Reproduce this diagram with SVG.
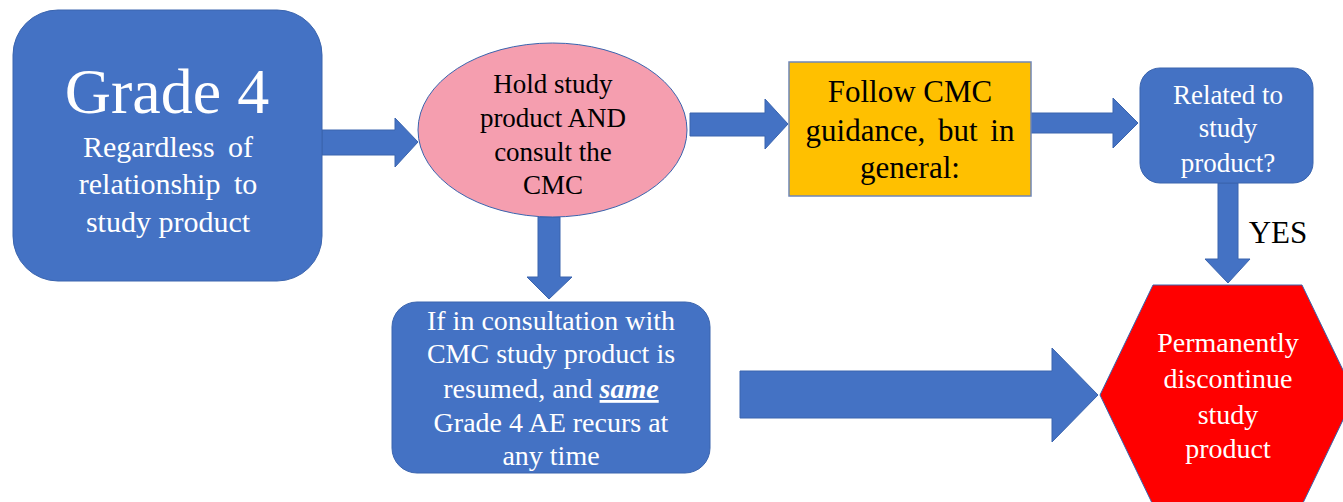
<svg xmlns="http://www.w3.org/2000/svg" width="1343" height="502" viewBox="0 0 1343 502">
<style>
.blue{fill:#4472C4;stroke:#3A64AE;stroke-width:1}
.arrow{fill:#4472C4;stroke:#3A64AE;stroke-width:1}
text{font-family:"Liberation Serif","Times New Roman",serif;text-anchor:middle}
.w{fill:#FFFFFF}
.k{fill:#000000}
</style>
<rect width="1343" height="502" fill="#FFFFFF"/>
<g id="connectors">
<polygon class="arrow" points="322,130 395,130 395,118 418,142 395,167 395,155 322,155"/>
<polygon class="arrow" points="690,113 765,113 765,99 788,124 765,149 765,136 690,136"/>
<polygon class="arrow" points="1031,113 1113,113 1113,98 1138,123 1113,148 1113,133 1031,133"/>
<polygon class="arrow" points="538,217 560,217 560,277 572,277 549,299 527,277 538,277"/>
<polygon class="arrow" points="1218,183 1238,183 1238,259 1250,259 1228,283 1205,259 1218,259"/>
<polygon class="arrow" points="740,371 1052,371 1052,348 1098,395 1052,442 1052,418 740,418"/>
</g>
<g id="grade4">
<rect class="blue" x="13" y="10" width="309" height="271" rx="45" ry="45"/>
<text class="w" x="167" y="113" font-size="64">Grade 4</text>
<text class="w" x="168" y="157" font-size="30" word-spacing="6">Regardless of</text>
<text class="w" x="168" y="194" font-size="30" word-spacing="6">relationship to</text>
<text class="w" x="168" y="232" font-size="30">study product</text>
</g>
<g id="hold">
<ellipse cx="552.5" cy="130" rx="134.5" ry="87" fill="#F59EAF" stroke="#3A64AE" stroke-width="1"/>
<text class="k" x="553" y="93" font-size="27">Hold study</text>
<text class="k" x="553" y="127" font-size="27">product AND</text>
<text class="k" x="553" y="161" font-size="27">consult the</text>
<text class="k" x="553" y="194" font-size="27">CMC</text>
</g>
<g id="follow">
<rect x="789" y="62" width="242" height="134" fill="#FFC000" stroke="#6F86B8" stroke-width="1.5"/>
<text class="k" x="910" y="102" font-size="31">Follow CMC</text>
<text class="k" x="910" y="141" font-size="31" word-spacing="5">guidance, but in</text>
<text class="k" x="910" y="178" font-size="31">general:</text>
</g>
<g id="related">
<rect class="blue" x="1140" y="68" width="173" height="115" rx="20" ry="20"/>
<text class="w" x="1228" y="104" font-size="27">Related to</text>
<text class="w" x="1228" y="137" font-size="27">study</text>
<text class="w" x="1228" y="172" font-size="27">product?</text>
</g>
<g id="yes-label">
<text class="k" x="1278" y="243" font-size="31">YES</text>
</g>
<g id="resumed">
<rect class="blue" x="392" y="302" width="318" height="171" rx="25" ry="25"/>
<text class="w" x="551" y="330" font-size="28">If in consultation with</text>
<text class="w" x="551" y="363" font-size="28">CMC study product is</text>
<text class="w" x="551" y="398" font-size="28">resumed, and <tspan font-weight="bold" font-style="italic" text-decoration="underline">same</tspan></text>
<text class="w" x="551" y="432" font-size="28">Grade 4 AE recurs at</text>
<text class="w" x="551" y="465" font-size="28">any time</text>
</g>
<g id="discontinue">
<polygon points="1153,285 1302,285 1355,395 1302,505 1153,505 1100,395" fill="#FF0000" stroke="#3A64AE" stroke-width="1"/>
<text class="w" x="1228" y="352" font-size="28">Permanently</text>
<text class="w" x="1228" y="388" font-size="28">discontinue</text>
<text class="w" x="1228" y="424" font-size="28">study</text>
<text class="w" x="1228" y="458" font-size="28">product</text>
</g>
</svg>
